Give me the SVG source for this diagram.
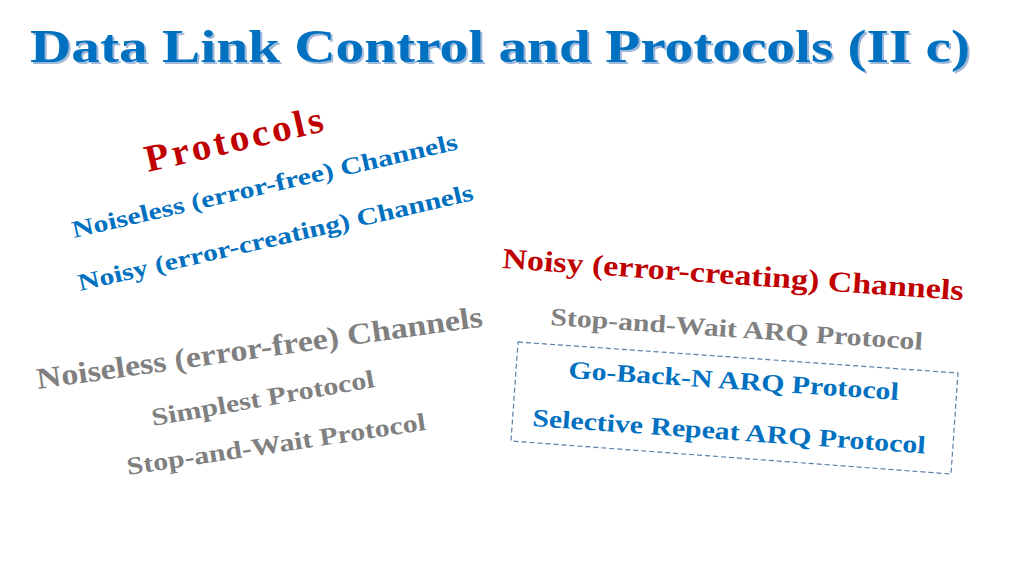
<svg xmlns="http://www.w3.org/2000/svg" width="1024" height="576" viewBox="0 0 1024 576">
<style>
text{font-family:"Liberation Serif","Times New Roman",serif;font-weight:bold}
.b{fill:#0070C0}.r{fill:#C00000}.g{fill:#808080}
</style>
<rect width="1024" height="576" fill="#fff"/>
<g id="title">
<text x="32" y="64" font-size="46" fill="#9fb8d8" textLength="940" lengthAdjust="spacingAndGlyphs">Data Link Control and Protocols (II c)</text>
<text x="30" y="62" font-size="46" class="b" textLength="940" lengthAdjust="spacingAndGlyphs">Data Link Control and Protocols (II c)</text>
</g>
<g id="protocols">
<text x="148" y="172" font-size="38" class="r" letter-spacing="3" transform="rotate(-13 148 172)" textLength="185" lengthAdjust="spacingAndGlyphs">Protocols</text>
<text x="74" y="238" font-size="24" class="b" transform="rotate(-13 74 238)" textLength="395" lengthAdjust="spacingAndGlyphs">Noiseless (error-free) Channels</text>
<text x="80" y="291" font-size="24" class="b" transform="rotate(-13 80 291)" textLength="405" lengthAdjust="spacingAndGlyphs">Noisy (error-creating) Channels</text>
</g>
<g id="noiseless">
<text x="38" y="389" font-size="30" class="g" transform="rotate(-8 38 389)" textLength="450" lengthAdjust="spacingAndGlyphs">Noiseless (error-free) Channels</text>
<text x="153" y="426" font-size="25" class="g" transform="rotate(-10 153 426)" textLength="226" lengthAdjust="spacingAndGlyphs">Simplest Protocol</text>
<text x="128" y="475" font-size="25" class="g" transform="rotate(-8.6 128 475)" textLength="302" lengthAdjust="spacingAndGlyphs">Stop-and-Wait Protocol</text>
</g>
<g id="noisy">
<text x="502" y="268" font-size="29" class="r" transform="rotate(4 502 268)" textLength="462" lengthAdjust="spacingAndGlyphs">Noisy (error-creating) Channels</text>
<text x="550" y="325" font-size="25" class="g" transform="rotate(3.8 550 325)" textLength="373" lengthAdjust="spacingAndGlyphs">Stop-and-Wait ARQ Protocol</text>
<polygon points="518,342 958,373 951,474 511,441" fill="none" stroke="#5a7fa8" stroke-width="1.2" stroke-dasharray="5,3"/>
<text x="568" y="378" font-size="25" class="b" transform="rotate(3.8 568 378)" textLength="331" lengthAdjust="spacingAndGlyphs">Go-Back-N ARQ Protocol</text>
<text x="532" y="426" font-size="25" class="b" transform="rotate(4 532 426)" textLength="394" lengthAdjust="spacingAndGlyphs">Selective Repeat ARQ Protocol</text>
</g>
</svg>
